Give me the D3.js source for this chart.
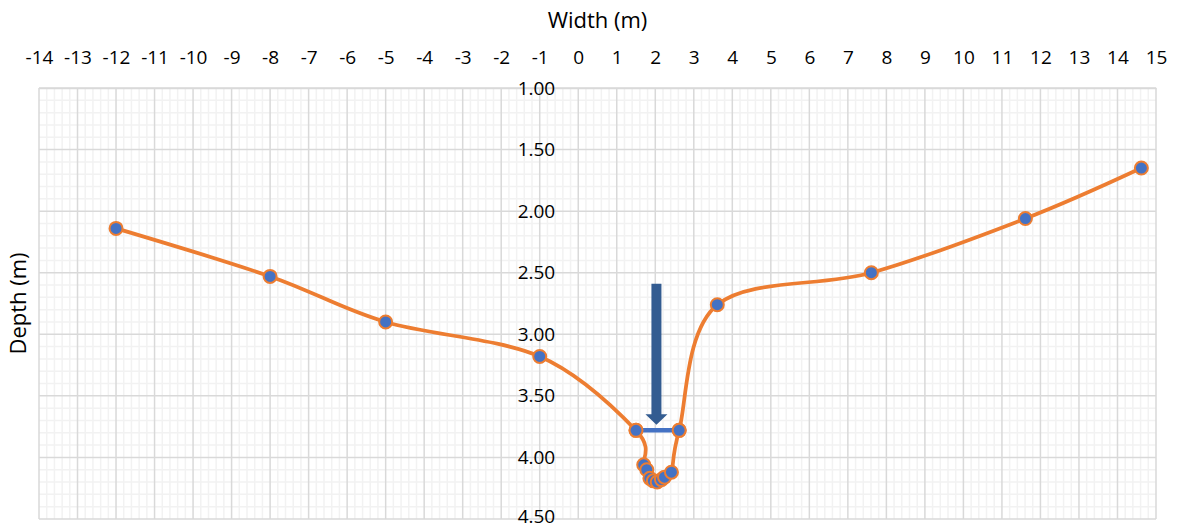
<!DOCTYPE html>
<html><head><meta charset="utf-8">
<script src="https://cdn.jsdelivr.net/npm/d3@7"></script>
<style>
body{margin:0;background:#fff}
text{font-family:"Open Sans",sans-serif;fill:#000}
</style>
</head><body>
<svg id="chart" width="1178" height="529"></svg>
<script>
// ---- data ----
const widths = [-12, -8, -5, -1, 1.5, 1.7, 1.78, 1.86, 1.95, 2.05, 2.16, 2.24, 2.42, 2.62, 3.61, 7.61, 11.61, 14.62];
const depths = [2.14, 2.53, 2.90, 3.18, 3.78, 4.06, 4.10, 4.17, 4.19, 4.20, 4.18, 4.16, 4.12, 3.78, 2.76, 2.50, 2.06, 1.65];
const waterWidths = [1.5, 2.62];
const waterDepths = [3.78, 3.78];
const arrowWidth = [2.03];
const arrowDepths = [2.59, 3.65, 3.735]; // tail, head base, tip
const xTicks = d3.range(-14, 16, 1);
const yTicks = [1.0, 1.5, 2.0, 2.5, 3.0, 3.5, 4.0, 4.5];
const xTitle = "Width (m)";
const yTitle = "Depth (m)";

// ---- layout ----
const plot = {left: 39, right: 1156, top: 88, bottom: 519};
const svg = d3.select("#chart");

const x = d3.scaleLinear().domain([-14, 15]).range([plot.left, plot.right]);
const y = d3.scaleLinear().domain([1, 4.5]).range([plot.top, plot.bottom]);

// minor grid
const g = svg.append("g");
const minorX = d3.range(-14, 15.001, 0.2).filter(v => Math.abs(v - Math.round(v)) > 1e-6);
const minorY = d3.range(1, 4.5001, 0.1).filter(v => Math.abs(v*2 - Math.round(v*2)) > 1e-6);
g.selectAll(".mx").data(minorX).join("line")
  .attr("x1", d => x(d)).attr("x2", d => x(d)).attr("y1", plot.top).attr("y2", plot.bottom)
  .attr("stroke", "#F2F2F2").attr("stroke-width", 1.5);
g.selectAll(".my").data(minorY).join("line")
  .attr("y1", d => y(d)).attr("y2", d => y(d)).attr("x1", plot.left).attr("x2", plot.right)
  .attr("stroke", "#F2F2F2").attr("stroke-width", 1.5);
// major grid
g.selectAll(".Mx").data(xTicks).join("line")
  .attr("x1", d => x(d)).attr("x2", d => x(d)).attr("y1", plot.top).attr("y2", plot.bottom)
  .attr("stroke", "#D9D9D9").attr("stroke-width", 1.5);
g.selectAll(".My").data(yTicks).join("line")
  .attr("y1", d => y(d)).attr("y2", d => y(d)).attr("x1", plot.left).attr("x2", plot.right)
  .attr("stroke", "#D9D9D9").attr("stroke-width", 1.5);

// x axis (top) labels, with plain hyphen for negatives
const xAxis = d3.axisTop(x).tickValues(xTicks).tickSize(0).tickPadding(0).tickFormat(d => String(d));
const xa = svg.append("g").attr("transform", `translate(0,${plot.top})`).call(xAxis);
xa.select(".domain").attr("stroke", "#D9D9D9").attr("stroke-width", 1.5);
xa.selectAll("text").attr("y", -31).attr("dy", "0.35em").attr("font-size", 19)
  .attr("font-family", "Open Sans").attr("fill", "#000");

// y axis labels at x = 0
const yAxis = d3.axisLeft(y).tickValues(yTicks).tickSize(0).tickPadding(23).tickFormat(d => d.toFixed(2));
const ya = svg.append("g").attr("transform", `translate(${x(0)},0)`).call(yAxis);
ya.select(".domain").remove();
ya.selectAll("text").attr("font-size", 19).attr("font-family", "Open Sans").attr("fill", "#000");
ya.selectAll(".tick").filter(d => d === 4.5).select("text").attr("dy", "0.2em");

// titles
svg.append("text").attr("x", (plot.left + plot.right) / 2).attr("y", 20).attr("dy", "0.35em")
  .attr("text-anchor", "middle").attr("font-size", 22).text(xTitle);
svg.append("text").attr("transform", `translate(18,${(plot.top + plot.bottom) / 2}) rotate(-90)`)
  .attr("dy", "0.35em").attr("text-anchor", "middle").attr("font-size", 22).text(yTitle);

// bed profile
const pts = widths.map((w, i) => [w, depths[i]]);
const line = d3.line().x(d => x(d[0])).y(d => y(d[1])).curve(d3.curveCatmullRom.alpha(0));
svg.append("path").datum(pts).attr("d", line).attr("fill", "none")
  .attr("stroke", "#ED7D31").attr("stroke-width", 3.75);
svg.selectAll(".pt").data(pts).join("circle")
  .attr("cx", d => x(d[0])).attr("cy", d => y(d[1])).attr("r", 6.5)
  .attr("fill", "#4472C4").attr("stroke", "#ED7D31").attr("stroke-width", 2);

// water level
const wpts = waterWidths.map((w, i) => [w, waterDepths[i]]);
svg.append("path").datum(wpts).attr("d", d3.line().x(d => x(d[0])).y(d => y(d[1])))
  .attr("fill", "none").attr("stroke", "#4472C4").attr("stroke-width", 4.5);
svg.selectAll(".wp").data(wpts).join("circle")
  .attr("cx", d => x(d[0])).attr("cy", d => y(d[1])).attr("r", 6.5)
  .attr("fill", "#4472C4").attr("stroke", "#ED7D31").attr("stroke-width", 2);

// arrow
const ax = x(arrowWidth[0]);
const [yTail, yBase, yTip] = arrowDepths.map(y);
const bw = 5, hw = 11;
svg.append("path")
  .attr("d", `M${ax-bw},${yTail}L${ax+bw},${yTail}L${ax+bw},${yBase}L${ax+hw},${yBase}L${ax},${yTip}L${ax-hw},${yBase}L${ax-bw},${yBase}Z`)
  .attr("fill", "#335C91");
</script>
</body></html>
